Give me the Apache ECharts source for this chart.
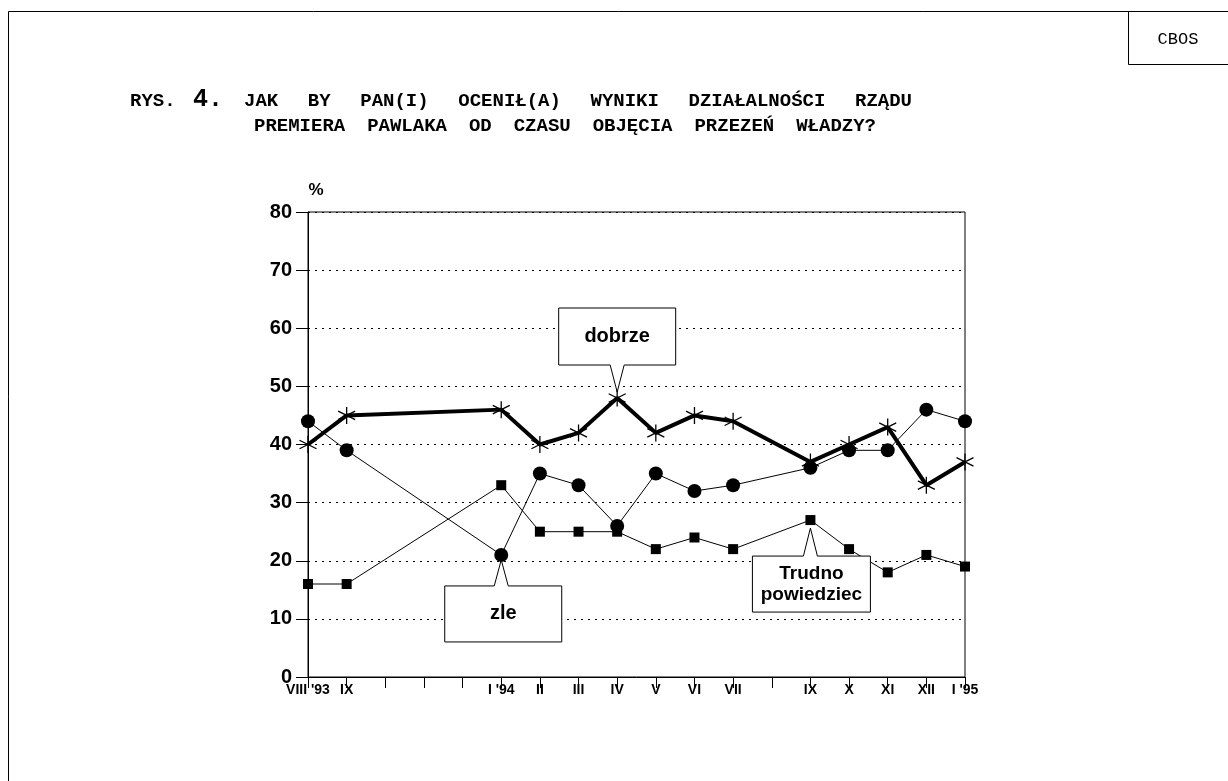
<!DOCTYPE html>
<html><head><meta charset="utf-8">
<script src="https://cdn.jsdelivr.net/npm/echarts@6/dist/echarts.min.js"></script>
<style>html,body{margin:0;padding:0;background:#fff}#c{width:1228px;height:781px}</style>
</head><body><div id="c"></div>
<script>
// ---- data ----
const months = ["VIII '93","IX '93","X '93","XI '93","XII '93","I '94","II '94","III '94","IV '94","V '94","VI '94","VII '94","VIII '94","IX '94","X '94","XI '94","XII '94","I '95"];
const tickLabels = ["VIII '93","IX","","","","I '94","II","III","IV","V","VI","VII","","IX","X","XI","XII","I '95"];
const dobrze = [40,45,null,null,null,46,40,42,48,42,45,44,null,37,40,43,33,37];
const zle    = [44,39,null,null,null,21,35,33,26,35,32,33,null,36,39,39,46,44];
const trudno = [16,16,null,null,null,33,25,25,25,22,24,22,null,27,22,18,21,19];
const seriesNames = ["dobrze","zle","Trudno powiedziec"];
const titleLine1 = "JAK BY PAN(I) OCENIŁ(A) WYNIKI DZIAŁALNOŚCI RZĄDU";
const titleLine2 = "PREMIERA PAWLAKA OD CZASU OBJĘCIA PRZEZEŃ WŁADZY?";

const chart = echarts.init(document.getElementById('c'), null, {renderer:'canvas'});
const star = 'path://M0,-10L0,10M-8.66,-5L8.66,5M-8.66,5L8.66,-5';
const sans = 'Liberation Sans, Arial, sans-serif';
const narrow = 'Liberation Sans Narrow, Liberation Sans, Arial, sans-serif';
const mono = 'Liberation Mono, Courier New, monospace';

const option = {
  animation:false,
  backgroundColor:'#fff',
  grid:{left:308,right:263,top:212,bottom:104,show:true,borderColor:'#000',borderWidth:1,containLabel:false,outerBoundsMode:'none'},
  xAxis:{type:'category',data:months,boundaryGap:false,
    axisLine:{lineStyle:{color:'#000',width:1}},
    axisTick:{show:true,interval:0,length:11,lineStyle:{color:'#000'}},
    axisLabel:{interval:0,margin:6,color:'#000',fontFamily:narrow,fontWeight:'bold',fontSize:14,
      formatter:(v,i)=>tickLabels[i]},
    splitLine:{show:false}},
  yAxis:{type:'value',min:0,max:80,interval:10,
    axisLine:{show:true,lineStyle:{color:'#000',width:1}},
    axisTick:{show:true,length:12,lineStyle:{color:'#000'}},
    axisLabel:{margin:16,color:'#000',fontFamily:sans,fontWeight:'bold',fontSize:20},
    splitLine:{show:true,lineStyle:{color:'#000',width:1,type:[2,5]}}},
  series:[
    {name:seriesNames[1],type:'line',data:zle,connectNulls:true,symbol:'circle',symbolSize:14,
      lineStyle:{color:'#000',width:1},itemStyle:{color:'#000',borderColor:'#000',borderWidth:0},z:3},
    {name:seriesNames[2],type:'line',data:trudno,connectNulls:true,symbol:'rect',symbolSize:10,
      lineStyle:{color:'#000',width:1},itemStyle:{color:'#000',borderColor:'#000',borderWidth:0},z:3},
    {name:seriesNames[0],type:'line',data:dobrze,connectNulls:true,symbol:star,symbolSize:17,
      lineStyle:{color:'#000',width:4},itemStyle:{color:'#000',borderColor:'#000',borderWidth:1.3},z:4}
  ]
};
chart.setOption(option);

function callout(pt, boxCx, boxW, boxH, down, gapBox, gapTip, text, font, lh) {
  const tipY = down ? pt[1]-gapTip : pt[1]+gapTip;
  const l = boxCx-boxW/2, r = boxCx+boxW/2;
  let pts, t, b;
  if (down) {
    b = pt[1]-gapBox; t = b-boxH;
    pts = [[l,t],[r,t],[r,b],[pt[0]+7,b],[pt[0],tipY],[pt[0]-7,b],[l,b]];
  } else {
    t = pt[1]+gapBox; b = t+boxH;
    pts = [[l,t],[pt[0]-7,t],[pt[0],tipY],[pt[0]+7,t],[r,t],[r,b],[l,b]];
  }
  return [{type:'polygon',shape:{points:pts},style:{fill:'#fff',stroke:'#000',lineWidth:1},z:10},
    {type:'text',x:boxCx,y:(t+b)/2,style:{text:text,fill:'#000',font:font,align:'center',verticalAlign:'middle',lineHeight:lh},z:11}];
}
// justified word layout for the title lines
const mctx = document.createElement('canvas').getContext('2d');
function justify(line, x0, x1, y, font) {
  const words = line.split(' ');
  mctx.font = font;
  const ws = words.map(w => mctx.measureText(w).width);
  const total = ws.reduce((a,b)=>a+b,0);
  const gap = (x1 - x0 - total) / (words.length - 1);
  let x = x0; const out = [];
  words.forEach((w,i)=>{ out.push({type:'text',x:x,y:y,style:{text:w,font:font,fill:'#000',verticalAlign:'middle'}}); x += ws[i] + gap; });
  return out;
}
const tFont = 'bold 19px ' + mono;

const pD = chart.convertToPixel({seriesIndex:2},[8,dobrze[8]]);
const pZ = chart.convertToPixel({seriesIndex:0},[5,zle[5]]);
const pT = chart.convertToPixel({seriesIndex:1},[13,trudno[13]]);

const g = [
  {type:'polyline',shape:{points:[[8.5,781],[8.5,11.5],[1228,11.5]]},style:{stroke:'#000',lineWidth:1,fill:null}},
  {type:'polyline',shape:{points:[[1128.5,11.5],[1128.5,64.5],[1228,64.5]]},style:{stroke:'#000',lineWidth:1,fill:null}},
  {type:'text',x:1178,y:39,style:{text:'CBOS',font:'17px '+mono,fill:'#000',align:'center',verticalAlign:'middle'}},
  {type:'text',x:130,y:101,style:{text:'RYS.',font:tFont,fill:'#000',verticalAlign:'middle'}},
  {type:'text',x:193,y:100,style:{text:'4.',font:'bold 25px '+mono,fill:'#000',verticalAlign:'middle'}},
  {type:'text',x:316,y:190,style:{text:'%',font:'bold 17px '+sans,fill:'#000',align:'center',verticalAlign:'middle'}}
].concat(
  justify(titleLine1, 244, 912, 101, tFont),
  justify(titleLine2, 254, 876, 126, tFont),
  callout(pD, pD[0], 117, 57, true, 33, 6, seriesNames[0], 'bold 20px '+sans, 22),
  callout(pZ, pZ[0]+2, 117, 56, false, 31, 5, seriesNames[1], 'bold 20px '+sans, 22),
  callout(pT, pT[0]+1, 118, 56, false, 36, 8, 'Trudno\npowiedziec', 'bold 19px '+sans, 21)
);
chart.setOption({graphic:{elements:g}});
</script></body></html>
